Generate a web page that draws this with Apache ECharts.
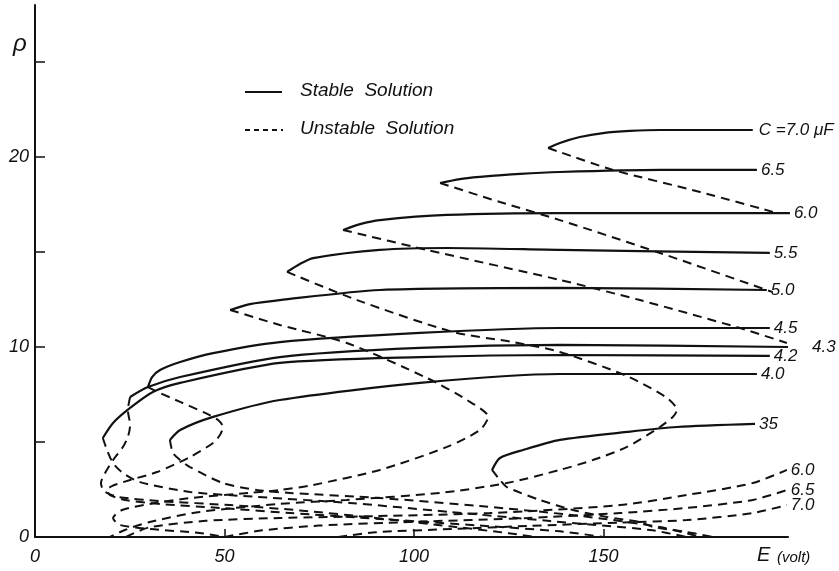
<!DOCTYPE html>
<html><head><meta charset="utf-8">
<script src="https://cdn.jsdelivr.net/npm/echarts@6/dist/echarts.min.js"></script>
<style>html,body{margin:0;padding:0;background:#fff}#c{width:839px;height:571px}</style>
</head><body><div id="c"></div>
<script>
// ---- data (E in volt, rho) ----
const xTickLabels = [0, 50, 100, 150];
const yTickLabels = [0, 10, 20];
const stable70 = [[135.4,20.47],[138.5,20.74],[143.8,21.05],[149.9,21.26],[157.0,21.37],[164.9,21.42],[175.5,21.42],[189.4,21.42]];
const unstable70 = [[135.4,20.47],[138.5,20.26],[152.5,19.32],[175.5,18.16],[194.7,17.11]];
const stable65 = [[106.9,18.63],[112.1,18.84],[117.4,18.95],[128.0,19.11],[138.5,19.21],[164.9,19.32],[190.5,19.32]];
const unstable65 = [[106.9,18.63],[122.7,17.63],[138.5,16.68],[164.9,14.95],[194.7,12.89]];
const stable60 = [[81.3,16.16],[85.8,16.47],[91.0,16.68],[108.7,16.95],[138.5,17.05],[199.2,17.05]];
const unstable60 = [[81.3,16.16],[103.4,15.11],[138.5,13.53],[159.6,12.47],[186.0,11.0],[198.4,10.21]];
const stable55 = [[66.5,13.95],[69.9,14.37],[73.4,14.68],[91.0,15.11],[108.7,15.21],[138.5,15.11],[193.9,14.95]];
const unstable55 = [[66.5,13.95],[85.0,12.47],[110.3,10.79],[126.1,10.26],[138.5,9.74],[156.2,8.47],[166.8,7.32],[169.4,6.68],[168.3,6.32],[164.9,5.79],[156.2,4.74],[147.2,4.05],[138.5,3.53],[124.5,2.84],[106.9,2.32],[82.3,1.95],[64.6,1.74],[43.5,1.32],[30.3,0.79],[23.7,0.37],[19.8,0]];
const stable50 = [[51.5,11.95],[56.7,12.26],[64.6,12.47],[91.0,13.0],[138.5,13.11],[193.1,13.0]];
const unstable50 = [[51.5,11.95],[64.6,11.16],[82.3,10.21],[103.4,8.37],[114.0,7.21],[119.6,6.32],[117.4,5.63],[108.7,4.74],[91.0,3.53],[73.4,2.74],[64.6,2.47],[56.7,2.32],[40.9,2.05],[30.3,1.74],[23.0,1.42],[20.6,1.0],[22.4,0.63],[30.3,0.42],[43.5,0.21],[50.1,0]];
const stable45 = [[29.8,7.89],[30.9,8.42],[33.0,8.79],[38.3,9.21],[47.0,9.68],[64.6,10.26],[101.6,10.74],[138.5,11.0],[193.9,11.0]];
const unstable45 = [[29.8,7.89],[33.0,7.58],[38.3,7.11],[44.9,6.53],[48.3,6.16],[49.6,5.79],[48.8,5.37],[47.0,4.95],[40.9,4.21],[32.2,3.42],[25.1,3.0],[20.3,2.68],[19.0,2.47],[19.8,2.21],[23.7,1.95],[33.0,1.74],[48.8,1.53],[67.3,1.26],[91.0,0.95],[117.4,0.6],[138.5,0.3],[150.0,0]];
const stable43 = [[25.1,7.37],[29.8,7.89],[38.3,8.42],[64.6,9.47],[101.6,9.95],[138.5,10.11],[198.7,10.0]];
const unstable43 = [[25.1,7.37],[24.5,6.68],[25.1,5.89],[24.5,5.26],[23.2,4.74],[20.6,4.05],[18.5,3.37],[17.4,2.84],[18.2,2.42],[21.9,2.11],[33.0,1.89],[51.5,1.68],[69.9,1.4],[90.0,1.0],[110.0,0.55],[125.0,0.2],[132.0,0]];
const stable42 = [[17.9,5.21],[20.6,6.0],[25.1,6.79],[31.1,7.63],[38.3,8.11],[64.6,9.16],[101.6,9.47],[138.5,9.58],[193.9,9.53]];
const unstable42 = [[17.9,5.21],[19.0,4.58],[20.6,3.89],[23.2,3.37],[27.7,2.89],[40.9,2.37],[58.6,2.11],[83.1,1.79],[109.5,1.32],[135.9,0.84],[162.3,0.37],[172.0,0]];
const stable40 = [[35.6,5.11],[38.3,5.63],[47.0,6.32],[64.6,7.21],[101.6,8.11],[138.5,8.58],[190.5,8.58]];
const unstable40 = [[35.6,5.11],[36.4,4.42],[38.3,4.05],[40.9,3.68],[49.6,2.84],[58.6,2.47],[67.3,2.32],[91.0,2.05],[117.4,1.63],[143.8,1.11],[164.9,0.53],[175.5,0]];
const stable35 = [[120.6,3.53],[122.7,4.16],[128.8,4.58],[138.5,5.11],[156.2,5.53],[169.4,5.79],[190.0,5.95]];
const unstable35 = [[120.6,3.53],[122.7,3.0],[124.5,2.63],[133.2,1.95],[142.0,1.42],[151.0,1.05],[159.6,0.79],[163.0,0.53],[172.0,0.26],[178.9,0]];
const lower60 = [[24.0,0],[30.0,0.5],[45.0,0.85],[64.6,1.0],[90.0,1.1],[120.0,1.26],[154.4,1.68],[172.0,2.21],[189.4,2.84],[198.4,3.53]];
const lower65 = [[50.0,0],[60.0,0.35],[75.0,0.6],[100.0,0.8],[130.0,1.0],[154.4,1.26],[172.0,1.53],[189.4,1.95],[198.4,2.47]];
const lower70 = [[80.0,0],[90.0,0.25],[110.0,0.42],[130.0,0.58],[154.4,0.76],[172.0,0.89],[189.4,1.26],[198.4,1.68]];

const curveLabels = {
  stable70: 'C =7.0 \u03bcF', stable65: '6.5', stable60: '6.0', stable55: '5.5', stable50: '5.0',
  stable45: '4.5', stable43: '4.3', stable42: '4.2', stable40: '4.0', stable35: '35',
  lower60: '6.0', lower65: '6.5', lower70: '7.0'
};
const labelOffsets = { stable43: [20, 0], stable70: [2, 0] };

const FONT = 'Liberation Sans';
function mk(name, data, dashed) {
  const s = {
    type: 'line', name: name, data: data, showSymbol: false, smooth: 0.25, clip: false,
    lineStyle: { color: '#111', width: dashed ? 2 : 2.2, type: dashed ? [9, 6] : 'solid' },
    emphasis: { disabled: true }, silent: true, animation: false
  };
  if (curveLabels[name]) {
    s.endLabel = { show: true, formatter: curveLabels[name], color: '#111', fontFamily: FONT,
      fontStyle: 'italic', fontSize: 17, distance: 4, offset: labelOffsets[name] || [0, 0] };
  }
  return s;
}

const chart = echarts.init(document.getElementById('c'), null, { renderer: 'canvas' });
chart.setOption({
  backgroundColor: '#fff',
  animation: false,
  grid: { left: 35, right: 51, top: 5, bottom: 34, containLabel: false },
  xAxis: {
    type: 'value', min: 0, max: 198.7, interval: 50,
    axisLine: { lineStyle: { color: '#111', width: 2 } },
    axisTick: { inside: true, length: 8, customValues: [50, 100, 150], lineStyle: { color: '#111', width: 1.5 } },
    splitLine: { show: false },
    axisLabel: { color: '#111', fontFamily: FONT, fontStyle: 'italic', fontSize: 18, margin: 11,
      formatter: v => xTickLabels.includes(v) ? String(v) : '' }
  },
  yAxis: {
    type: 'value', min: 0, max: 28, interval: 5,
    axisLine: { lineStyle: { color: '#111', width: 2 } },
    axisTick: { inside: true, length: 10, customValues: [5, 10, 15, 20, 25], lineStyle: { color: '#111', width: 1.5 } },
    splitLine: { show: false },
    axisLabel: { color: '#111', fontFamily: FONT, fontStyle: 'italic', fontSize: 18, margin: 6,
      formatter: v => yTickLabels.includes(v) ? String(v) : '' }
  },
  graphic: [
    { type: 'text', left: 13, top: 32, style: { text: '\u03c1', font: 'italic 24px "Liberation Sans"', fill: '#111' } },
    { type: 'text', left: 757, top: 545, style: { text: 'E', font: 'italic 20px "Liberation Sans"', fill: '#111' } },
    { type: 'text', left: 777, top: 550, style: { text: '(volt)', font: 'italic 15px "Liberation Sans"', fill: '#111' } },
    { type: 'line', shape: { x1: 245, y1: 92, x2: 282, y2: 92 }, style: { stroke: '#111', lineWidth: 2.2 } },
    { type: 'line', shape: { x1: 245, y1: 130, x2: 283, y2: 130 }, style: { stroke: '#111', lineWidth: 2, lineDash: [5, 4] } },
    { type: 'text', left: 300, top: 81, style: { text: 'Stable  Solution', font: 'italic 19px "Liberation Sans"', fill: '#111' } },
    { type: 'text', left: 300, top: 119, style: { text: 'Unstable  Solution', font: 'italic 19px "Liberation Sans"', fill: '#111' } }
  ],
  series: [
    mk('stable70', stable70, false), mk('unstable70', unstable70, true),
    mk('stable65', stable65, false), mk('unstable65', unstable65, true),
    mk('stable60', stable60, false), mk('unstable60', unstable60, true),
    mk('stable55', stable55, false), mk('unstable55', unstable55, true),
    mk('stable50', stable50, false), mk('unstable50', unstable50, true),
    mk('stable45', stable45, false), mk('unstable45', unstable45, true),
    mk('stable43', stable43, false), mk('unstable43', unstable43, true),
    mk('stable42', stable42, false), mk('unstable42', unstable42, true),
    mk('stable40', stable40, false), mk('unstable40', unstable40, true),
    mk('stable35', stable35, false), mk('unstable35', unstable35, true),
    mk('lower60', lower60, true), mk('lower65', lower65, true), mk('lower70', lower70, true)
  ]
});
</script></body></html>
